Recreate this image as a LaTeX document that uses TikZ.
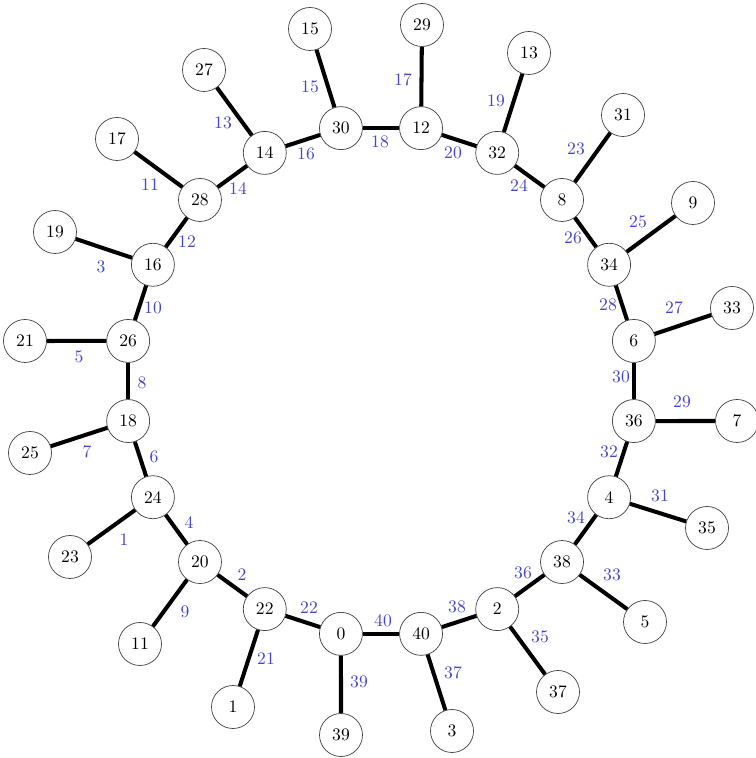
\documentclass[tikz,border=0pt]{standalone}
\usetikzlibrary{calc}
\definecolor{labelblue}{RGB}{68, 68, 204}
\definecolor{ink}{RGB}{0, 0, 0}

\begin{document}
\begin{tikzpicture}[
    vtx/.style={circle, draw=ink!75, fill=white, line width=0.4pt, minimum size=0.86cm, inner sep=0pt},
    edge/.style={draw=ink, line width=2.3pt},
    elabel/.style={text=labelblue, inner sep=0pt}
]
    \useasboundingbox (0, 0) rectangle (15.10, 15.16);

    % =========================================================================
    % CYCLE: 20 vertices on a circle
    % =========================================================================
    \coordinate (c) at (7.62, 7.54);
    \foreach \a/\lab in {-81/40, -63/2, -45/38, -27/4, -9/36, 9/6, 27/34, 45/8, 63/32, 81/12,
                         99/30, 117/14, 135/28, 153/16, 171/26, 189/18, 207/24, 225/20, 243/22, 261/0} {
        \node[vtx] (v\lab) at ($(c) + (\a:5.12)$) {\lab};
    }

    % =========================================================================
    % PENDANT VERTICES
    % =========================================================================
    \foreach \lab/\x/\y in {39/6.82/0.46, 3/9.04/0.54, 37/11.16/1.32, 5/12.90/2.72, 35/14.14/4.60,
                            7/14.74/6.74, 33/14.64/9.00, 9/13.86/11.10, 31/12.46/12.86, 13/10.58/14.10,
                            29/8.44/14.66, 15/6.20/14.58, 27/4.08/13.76, 17/2.34/12.38, 19/1.10/10.52,
                            21/0.50/8.34, 25/0.60/6.10, 23/1.40/4.02, 11/2.80/2.28, 1/4.66/1.02} {
        \node[vtx] (v\lab) at (\x, \y) {\lab};
    }

    % =========================================================================
    % EDGES WITH THEIR LABELS
    % =========================================================================
    % cycle edges
    \foreach \p/\q/\w/\x/\y in {0/40/40/7.66/2.74, 40/2/38/9.14/3.02, 2/38/36/10.46/3.70,
                                38/4/34/11.52/4.80, 4/36/32/12.18/6.12, 36/6/30/12.42/7.62,
                                6/34/28/12.16/9.06, 34/8/26/11.46/10.40, 8/32/24/10.38/11.44,
                                32/12/20/9.06/12.10, 12/30/18/7.60/12.32, 30/14/16/6.12/12.08,
                                14/28/14/4.76/11.38, 28/16/12/3.74/10.32, 16/26/10/3.06/9.00,
                                26/18/8/2.84/7.50, 18/24/6/3.08/6.02, 24/20/4/3.78/4.70,
                                20/22/2/4.84/3.66, 22/0/22/6.18/3.00} {
        \draw[edge] (v\p) -- (v\q);
        \node[elabel] (e\w) at (\x, \y) {\w};
    }
    % pendant edges
    \foreach \p/\q/\w/\x/\y in {0/39/39/7.18/1.52, 40/3/37/9.06/1.70, 2/37/35/10.80/2.42,
                                38/5/33/12.24/3.66, 4/35/31/13.20/5.24, 36/7/29/13.64/7.12,
                                6/33/27/13.48/9.00, 34/9/25/12.76/10.72, 8/31/23/11.52/12.18,
                                32/13/19/9.92/13.14, 12/29/17/8.06/13.56, 30/15/15/6.20/13.42,
                                14/27/13/4.46/12.70, 28/17/11/3.00/11.46, 16/19/3/2.02/9.82,
                                26/21/5/1.58/8.02, 18/25/7/1.74/6.12, 24/23/1/2.48/4.36,
                                20/11/9/3.70/2.92, 22/1/21/5.32/1.98} {
        \draw[edge] (v\p) -- (v\q);
        \node[elabel] (e\w) at (\x, \y) {\w};
    }

\end{tikzpicture}
\end{document}
